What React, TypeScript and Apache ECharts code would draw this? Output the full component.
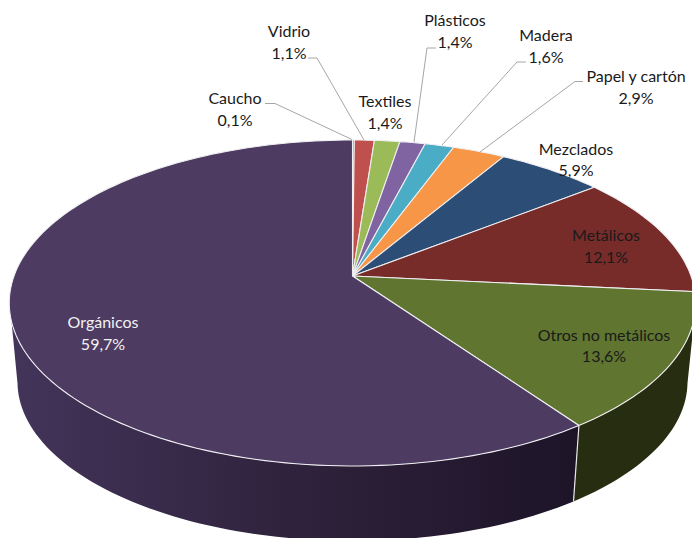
import React, { useEffect, useRef } from "react";
import * as echarts from "echarts";

const categories = ["Caucho", "Vidrio", "Textiles", "Plásticos", "Madera", "Papel y cartón", "Mezclados", "Metálicos", "Otros no metálicos", "Orgánicos"];
const shares = [0.1, 1.1, 1.4, 1.4, 1.6, 2.9, 5.9, 12.1, 13.6, 59.7];
const colors = ["#4F81BD", "#C0504D", "#9BBB59", "#8064A2", "#4BACC6", "#F79646", "#2C4D75", "#772C2A", "#5F7530", "#4D3B62"];

// Label centres and leader-line layout, in pixels of the 692x538 picture.
const labelCenters = [[235, 108.5], [289, 41.5], [385, 111.5], [455, 30.5], [546, 45.5], [636, 86.5], [576, 159], [606, 245.5], [604, 345], [103, 332.5]];
const leaders: (number[][] | null)[] = [
  [[265, 103.5], [275, 103.5], [352, 139.5]],
  [[308, 58], [317, 58], [364, 140]],
  null,
  [[436, 48], [427, 48], [414, 142]],
  [[526, 62], [517, 62], [442, 145]],
  [[583, 81.5], [575, 81.5], [480, 152]],
  null, null, null, null,
];

// Perspective projection of the pie's disc.
const AX = 352.5, TOP_Y = 276, BOTTOM_Y = 355.5, A = 338.5, B = 158.5, K = 0.1656, BOTTOM_SCALE = 0.976;
const RAD = Math.PI / 180;
const total = shares.reduce((s, v) => s + v, 0);
const angleOf = (i: number) => (shares.slice(0, i).reduce((s, v) => s + v, 0) / total) * 360;

function rim(deg: number, bottom = false): number[] {
  const u = Math.sin(deg * RAD), v = -Math.cos(deg * RAD), d = 1 - K * v;
  const s = bottom ? BOTTOM_SCALE : 1;
  return [AX + (s * A * u) / d, (bottom ? BOTTOM_Y : TOP_Y) + (s * B * v) / d];
}
function arc(from: number, to: number, bottom = false): number[][] {
  const n = Math.max(2, Math.ceil(Math.abs(to - from) / 1.5));
  const out: number[][] = [];
  for (let i = 0; i <= n; i++) out.push(rim(from + ((to - from) * i) / n, bottom));
  return out;
}

const wallFills: Record<number, any> = {
  8: "#272D10",
  9: new echarts.graphic.LinearGradient(0, 0, 1, 0, [
    { offset: 0, color: "#43345A" },
    { offset: 0.5, color: "#2F223C" },
    { offset: 1, color: "#1D1428" },
  ]),
};

export default function App() {
  const ref = useRef<HTMLDivElement>(null);
  useEffect(() => {
    document.body.style.margin = "0";
    document.body.style.overflow = "hidden";
    const chart = echarts.init(ref.current!, null, { renderer: "svg" });
    const data = shares.map((v, i) => ({ name: categories[i], value: v }));
    chart.setOption({
      animation: false,
      backgroundColor: "#fff",
      series: [
        {
          type: "custom", name: "Lateral", coordinateSystem: "none", data, silent: true,
          renderItem: (p: any) => {
            const i = p.dataIndex;
            if (!wallFills[i]) return { type: "group", children: [] };
            const start = angleOf(i), end = angleOf(i + 1) || 360;
            const topFrom = i === 8 ? 100 : start;
            const botFrom = i === 8 ? 100 : start;
            const topTo = i === 9 ? 254 : end;
            const botTo = i === 9 ? 260 : end;
            return {
              type: "polygon",
              shape: { points: [...arc(topFrom, topTo), ...arc(botTo, botFrom, true)] },
              style: { fill: wallFills[i], stroke: "none" },
            };
          },
        },
        {
          type: "custom", name: "Aristas", coordinateSystem: "none", data, silent: true,
          renderItem: (p: any) => {
            const i = p.dataIndex;
            if (i !== 9) return { type: "group", children: [] };
            return {
              type: "line",
              shape: { x1: rim(angleOf(9))[0], y1: rim(angleOf(9))[1], x2: rim(angleOf(9), true)[0], y2: rim(angleOf(9), true)[1] },
              style: { stroke: "#E6E6E6", lineWidth: 1.2 },
            };
          },
        },
        {
          type: "custom", name: "Sectores", coordinateSystem: "none", data, silent: true,
          renderItem: (p: any, api: any) => {
            const i = p.dataIndex;
            const start = angleOf(i), end = start + (api.value(0) / total) * 360;
            return {
              type: "polygon",
              shape: { points: [[AX, TOP_Y], ...arc(start, end)] },
              style: { fill: colors[i], stroke: "#EFEFF2", lineWidth: 1.1, lineJoin: "round" },
            };
          },
        },
        {
          type: "custom", name: "Etiquetas", coordinateSystem: "none", data, silent: true,
          renderItem: (p: any, api: any) => {
            const i = p.dataIndex;
            const children: any[] = [];
            const line = leaders[i];
            if (line) children.push({ type: "polyline", shape: { points: line }, style: { fill: "none", stroke: "#A6A6A6", lineWidth: 1 } });
            children.push({
              type: "text", x: labelCenters[i][0], y: labelCenters[i][1],
              style: {
                text: `${categories[i]}\n${api.value(0).toFixed(1).replace(".", ",")}%`,
                fontFamily: "Lato", fontSize: 16, lineHeight: 21.5,
                align: "center", verticalAlign: "middle",
                fill: i === 9 ? "#F2F2F2" : "#1A1A1A",
              },
            });
            return { type: "group", children };
          },
        },
      ],
    });
    return () => chart.dispose();
  }, []);
  return <div ref={ref} style={{ width: 692, height: 538 }} />;
}
